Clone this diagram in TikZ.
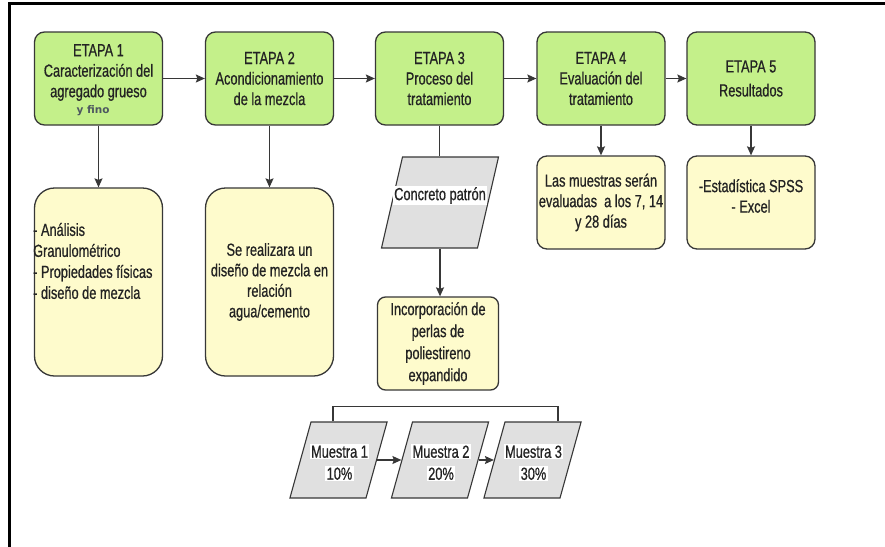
\documentclass[tikz,border=0pt]{standalone}
\usepackage{fontspec}
\setmainfont{Liberation Sans}[FakeStretch=0.73,FakeBold=0.7]
\newfontfamily\yfinofont{DejaVu Sans}
\usetikzlibrary{shapes.geometric,arrows.meta,calc}
\definecolor{gfill}{RGB}{196,240,138}
\definecolor{yfill}{RGB}{254,251,204}
\definecolor{pfill}{RGB}{224,224,224}
\definecolor{edgec}{RGB}{55,55,55}
\definecolor{txtc}{RGB}{35,35,35}
\definecolor{finoc}{RGB}{78,88,96}
\newcommand\wbx[1]{{\setlength\fboxsep{1.5pt}\colorbox{white}{#1}}}
\newcommand\pbody[2]{\hbox to #1{\vrule width 0pt height #2 depth #2\hfil}}
\begin{document}
\begin{tikzpicture}[x=1pt,y=-1pt,
  font=\fontsize{17.5}{20.5}\selectfont, text=txtc,
  gbox/.style={draw=edgec, line width=1.3pt, fill=gfill, rounded corners=10pt,
    minimum width=128pt, minimum height=93pt, inner sep=0pt, align=center},
  ybox/.style={draw=edgec, line width=1.3pt, fill=yfill, rounded corners=10pt,
    minimum width=128pt, minimum height=93pt, inner sep=0pt, align=center},
  pbox/.style={trapezium, trapezium left angle=#1, trapezium right angle=180-#1,
    draw=edgec, line width=1.1pt, fill=pfill, inner sep=0pt},
  conn/.style={draw=edgec, line width=1.2pt},
  arr/.style={conn, -{Stealth[length=9pt,width=8pt,inset=1.5pt]}},
  lbl/.style={inner sep=0pt, align=center}]
\useasboundingbox (0,0) rectangle (885,546);
\fill[white] (0,0) rectangle (885,546);
% frame
\draw[line width=2.5pt, black] (9.5,560) -- (9.5,3.5) -- (900,3.5);

% stage boxes
\node[gbox] (e1) at (98.5,78.5) {};
\node[lbl] (e1t) at (98.5,72.5) {ETAPA 1\\Caracterización del\\agregado grueso};
\node[lbl, anchor=base, font=\yfinofont\bfseries\fontsize{10.5}{12}\selectfont, text=finoc] (e1f) at (93,113) {y fino};
\node[gbox] (e2) at (269.5,78.5) {ETAPA 2\\Acondicionamiento\\de la mezcla};
\node[gbox] (e3) at (439.5,78.5) {ETAPA 3\\Proceso del\\tratamiento};
\node[gbox] (e4) at (601,78.5) {ETAPA 4\\Evaluación del\\tratamiento};
\node[gbox, font=\fontsize{17.5}{24}\selectfont] (e5) at (751,78.5) {ETAPA 5\\Resultados};

% detail boxes
\node[ybox, rounded corners=20pt, minimum height=188pt] (y1) at (98.5,282) {};
\node[lbl, anchor=west, align=left, font=\fontsize{17.5}{21}\selectfont] (y1t) at (33,261) {- Análisis\\Granulométrico\\- Propiedades físicas\\- diseño de mezcla};
\node[ybox, rounded corners=20pt, minimum height=188pt] (y2) at (269.5,282) {Se realizara un\\diseño de mezcla en\\relación\\agua/cemento};
\node[ybox] (y4) at (601,202.5) {Las muestras serán\\evaluadas\ \ a los 7, 14\\y 28 días};
\node[ybox] (y5) at (751,202.5) {};
\node[lbl] (y5t) at (751,196) {-Estadística SPSS\\- Excel};

% stage 3 branch
\node[pbox=77] (cp) at (440,202.5) {\pbody{75pt}{45.5pt}};
\node[lbl] (cpt) at (440,195.5) {\wbx{Concreto patrón}};
\node[ybox, rounded corners=8pt, minimum width=121pt, minimum height=93pt,
  font=\fontsize{17.5}{22}\selectfont] (inc) at (438,343.5) {Incorporación de\\perlas de\\poliestireno\\expandido};

% samples
\node[pbox=74.5] (m1) at (338.5,460) {\pbody{55pt}{38pt}};
\node[pbox=74.5] (m2) at (440,460) {\pbody{55pt}{38pt}};
\node[pbox=74.5] (m3) at (532.5,460) {\pbody{55pt}{38pt}};
\node[lbl, font=\fontsize{17.5}{22}\selectfont] (m1t) at ($(m1)+(1,2.75)$) {\wbx{Muestra 1}\\\wbx{10\%}};
\node[lbl, font=\fontsize{17.5}{22}\selectfont] (m2t) at ($(m2)+(1,2.75)$) {\wbx{Muestra 2}\\\wbx{20\%}};
\node[lbl, font=\fontsize{17.5}{22}\selectfont] (m3t) at ($(m3)+(1,2.75)$) {\wbx{Muestra 3}\\\wbx{30\%}};

% connectors
\draw[arr] (e1) -- (e2);
\draw[arr] (e2) -- (e3);
\draw[arr] (e3) -- (e4);
\draw[arr] (e4) -- (e5);
\draw[arr] (e1.south) -- (e1.south |- y1.north);
\draw[arr] (e2.south) -- (e2.south |- y2.north);
\draw[arr] (e4.south) -- (e4.south |- y4.north);
\draw[arr] (e5.south) -- (e5.south |- y5.north);
\draw[conn] (e3.south) -- (e3.south |- cp.north);
\draw[arr] (cp.south) -- (cp.south |- inc.north);
\draw[arr] (m1) -- (m2);
\draw[arr] (m2) -- (m3);
\draw[conn] ([xshift=-5.5pt]m1.north) -- ++(0,-15) -| ([xshift=25.5pt]m3.north);
\end{tikzpicture}
\end{document}
